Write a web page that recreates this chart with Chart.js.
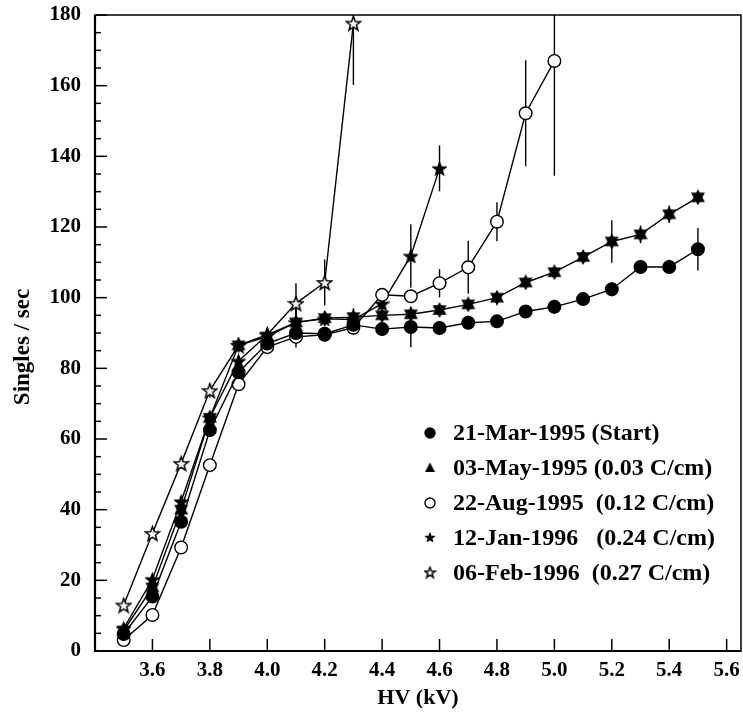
<!DOCTYPE html>
<html>
<head>
<meta charset="utf-8">
<script src="https://cdn.jsdelivr.net/npm/chart.js@4/dist/chart.umd.min.js"></script>
<style>
  body { margin: 0; background: #fff; }
  canvas { display: block; }
</style>
</head>
<body>
<canvas id="singles_cnv" width="743" height="716"></canvas>
<script>
// HV points (kV) and singles rates
const hv_start = [3.5, 3.6, 3.7, 3.8, 3.9, 4.0, 4.1, 4.2, 4.3, 4.4, 4.5, 4.6, 4.7, 4.8, 4.9, 5.0, 5.1, 5.2, 5.3, 5.4, 5.5];
const rate_start = [4.8, 15.4, 36.6, 62.5, 78.9, 87.0, 90.0, 89.8, 92.3, 91.1, 91.7, 91.4, 92.9, 93.3, 96.1, 97.4, 99.6, 102.4, 108.7, 108.7, 113.7];
const err_start = [1.0, 1.2, 1.5, 1.5, 1.5, 1.5, 2.0, 2.0, 2.5, 1.5, 5.7, 2.0, 2.0, 1.5, 1.5, 2.0, 1.5, 2.0, 2.0, 2.0, 6.0];

const hv_may = [3.5, 3.6, 3.7, 3.8, 3.9, 4.0, 4.1, 4.2, 4.3, 4.4, 4.5, 4.6, 4.7, 4.8, 4.9, 5.0, 5.1, 5.2, 5.3, 5.4, 5.5];
const rate_may = [5.8, 18.0, 40.0, 66.0, 86.5, 89.0, 93.0, 94.2, 94.5, 95.0, 95.3, 96.5, 98.1, 100.0, 104.3, 107.2, 111.5, 115.9, 117.9, 123.6, 128.4];
const err_may = [1.0, 1.2, 1.5, 1.5, 1.5, 1.5, 3.5, 2.0, 2.5, 1.5, 1.5, 1.5, 1.5, 1.5, 1.0, 1.5, 1.5, 6.0, 2.5, 2.5, 1.0];

const hv_aug = [3.5, 3.6, 3.7, 3.8, 3.9, 4.0, 4.1, 4.2, 4.3, 4.4, 4.5, 4.6, 4.7, 4.8, 4.9, 5.0];
const rate_aug = [3.1, 10.2, 29.3, 52.6, 75.5, 86.0, 88.9, 89.5, 91.5, 100.8, 100.4, 104.1, 108.6, 121.5, 152.2, 167.0];
const err_aug = [1.0, 1.0, 1.5, 1.5, 1.5, 2.0, 3.0, 2.0, 2.0, 1.0, 1.0, 4.0, 7.5, 5.5, 15.0, 32.5];

const hv_jan = [3.5, 3.6, 3.7, 3.8, 3.9, 4.0, 4.1, 4.2, 4.3, 4.4, 4.5, 4.6];
const rate_jan = [6.4, 20.3, 42.3, 66.0, 82.1, 89.5, 93.0, 94.0, 93.8, 98.3, 111.8, 136.6];
const err_jan = [1.0, 1.2, 1.5, 1.5, 1.5, 1.5, 4.0, 2.0, 2.5, 2.0, 9.0, 6.5];

const hv_feb = [3.5, 3.6, 3.7, 3.8, 3.9, 4.0, 4.1, 4.2, 4.3];
const rate_feb = [13.0, 33.3, 53.1, 73.7, 86.5, 89.5, 98.4, 104.3, 177.7];
const err_feb = [1.0, 1.0, 1.5, 2.0, 1.5, 2.0, 5.7, 6.5, 17.5];

const legend_labels = [
    "21-Mar-1995 (Start)",
    "03-May-1995 (0.03 C/cm)",
    "22-Aug-1995  (0.12 C/cm)",
    "12-Jan-1996   (0.24 C/cm)",
    "06-Feb-1996  (0.27 C/cm)"
];

const x_ticks = [3.6, 3.8, 4.0, 4.2, 4.4, 4.6, 4.8, 5.0, 5.2, 5.4, 5.6];
const y_ticks = [0, 20, 40, 60, 80, 100, 120, 140, 160, 180];

const serif = "'Liberation Serif', 'DejaVu Serif', serif";

/**
 * Little canvases used as point styles (stars and the double triangle).
 */
function star_canvas(size, filled) {
    const cnv = document.createElement("canvas");
    cnv.width = size;
    cnv.height = size;
    const ctx = cnv.getContext("2d");
    const c = size / 2, ro = size / 2 - 1, ri = ro * 0.42;
    ctx.beginPath();
    for (let i = 0; i < 10; i++) {
        const r = i % 2 === 0 ? ro : ri;
        const a = -Math.PI / 2 + i * Math.PI / 5;
        const px = c + r * Math.cos(a), py = c + r * Math.sin(a) + 0.8;
        if (i === 0) ctx.moveTo(px, py); else ctx.lineTo(px, py);
    }
    ctx.closePath();
    ctx.fillStyle = filled ? "#000" : "#fff";
    ctx.fill();
    ctx.lineWidth = 1.5;
    ctx.strokeStyle = "#000";
    ctx.stroke();
    return cnv;
}

function hourglass_canvas(size) {
    const cnv = document.createElement("canvas");
    cnv.width = size;
    cnv.height = size;
    const ctx = cnv.getContext("2d");
    ctx.fillStyle = "#000";
    ctx.beginPath();
    ctx.moveTo(size / 2, 0); ctx.lineTo(1, size * 0.8); ctx.lineTo(size - 1, size * 0.8); ctx.closePath();
    ctx.fill();
    ctx.beginPath();
    ctx.moveTo(1, size * 0.2); ctx.lineTo(size - 1, size * 0.2); ctx.lineTo(size / 2, size); ctx.closePath();
    ctx.fill();
    return cnv;
}

function triangle_canvas(size) {
    const cnv = document.createElement("canvas");
    cnv.width = size;
    cnv.height = size;
    const ctx = cnv.getContext("2d");
    ctx.fillStyle = "#000";
    ctx.beginPath();
    ctx.moveTo(size / 2, 0.5); ctx.lineTo(0.5, size - 1); ctx.lineTo(size - 0.5, size - 1); ctx.closePath();
    ctx.fill();
    return cnv;
}

const star_full_pt = star_canvas(15, true);
const star_open_pt = star_canvas(17, false);
const hourglass_pt = hourglass_canvas(16);

function to_points(xs, ys) {
    return xs.map((x, i) => ({x: x, y: ys[i]}));
}

function make_dataset(label, xs, ys, errs, style, fill) {
    return {
        label: label,
        data: to_points(xs, ys),
        errors: errs,
        showLine: true,
        borderColor: "#000",
        borderWidth: 1.4,
        tension: 0,
        pointStyle: style,
        pointRadius: 6.3,
        pointBackgroundColor: fill,
        pointBorderColor: "#000",
        pointBorderWidth: 1.4,
        clip: false
    };
}

const datasets = [
    make_dataset(legend_labels[0], hv_start, rate_start, err_start, "circle", "#000"),
    make_dataset(legend_labels[1], hv_may, rate_may, err_may, hourglass_pt, "#000"),
    make_dataset(legend_labels[2], hv_aug, rate_aug, err_aug, "circle", "#fff"),
    make_dataset(legend_labels[3], hv_jan, rate_jan, err_jan, star_full_pt, "#000"),
    make_dataset(legend_labels[4], hv_feb, rate_feb, err_feb, star_open_pt, "#fff")
];

// error bars go under the markers
const error_bar_plugin = {
    id: "error_bars",
    beforeDatasetsDraw(chart) {
        const ctx = chart.ctx, area = chart.chartArea;
        const xs = chart.scales.x, ys = chart.scales.y;
        ctx.save();
        ctx.beginPath();
        ctx.rect(area.left, area.top, area.right - area.left, area.bottom - area.top);
        ctx.clip();
        ctx.strokeStyle = "#000";
        ctx.lineWidth = 1.4;
        chart.data.datasets.forEach(ds => {
            ds.data.forEach((p, i) => {
                const e = ds.errors[i];
                const px = xs.getPixelForValue(p.x);
                ctx.beginPath();
                ctx.moveTo(px, ys.getPixelForValue(p.y - e));
                ctx.lineTo(px, ys.getPixelForValue(p.y + e));
                ctx.stroke();
            });
        });
        ctx.restore();
    }
};

// frame, inward ticks, y title and the legend block
const frame_plugin = {
    id: "frame",
    afterDraw(chart) {
        const ctx = chart.ctx, area = chart.chartArea;
        const xs = chart.scales.x, ys = chart.scales.y;
        ctx.save();
        ctx.strokeStyle = "#000";
        ctx.lineWidth = 1.5;
        ctx.strokeRect(area.left, area.top, area.right - area.left, area.bottom - area.top);
        ctx.lineWidth = 2.2;
        ctx.beginPath();
        ctx.moveTo(area.left, area.top);
        ctx.lineTo(area.left, area.bottom);
        ctx.lineTo(area.right, area.bottom);
        ctx.stroke();

        ctx.lineWidth = 1.5;
        for (let v = 0; v <= 180; v += 5) {
            const py = ys.getPixelForValue(v);
            const len = v % 20 === 0 ? 12 : 6;
            ctx.beginPath();
            ctx.moveTo(area.left, py);
            ctx.lineTo(area.left + len, py);
            ctx.stroke();
        }
        x_ticks.forEach(v => {
            const px = xs.getPixelForValue(v);
            ctx.beginPath();
            ctx.moveTo(px, area.bottom);
            ctx.lineTo(px, area.bottom - 12);
            ctx.stroke();
        });

        // y title
        ctx.save();
        ctx.translate(23, 347);
        ctx.rotate(-Math.PI / 2);
        ctx.font = "bold 23px " + serif;
        ctx.textAlign = "center";
        ctx.textBaseline = "middle";
        ctx.fillStyle = "#000";
        ctx.fillText("Singles / sec", 0, 0);
        ctx.restore();

        // legend
        const lx = 430, ly = 433, step = 35;
        ctx.font = "bold 24px " + serif;
        ctx.textBaseline = "middle";
        legend_labels.forEach((txt, i) => {
            const cy = ly + i * step;
            ctx.fillStyle = "#000";
            ctx.fillText(txt, 453, cy + 1);
            ctx.lineWidth = 1.4;
            if (i === 0 || i === 2) {
                ctx.beginPath();
                ctx.arc(lx, cy, 5, 0, Math.PI * 2);
                ctx.fillStyle = i === 0 ? "#000" : "#fff";
                ctx.fill();
                ctx.stroke();
            } else if (i === 1) {
                ctx.drawImage(triangle_canvas(11), lx - 5.5, cy - 6);
            } else if (i === 3) {
                ctx.drawImage(star_canvas(10, true), lx - 5, cy - 6);
            } else {
                ctx.drawImage(star_canvas(13, false), lx - 6.5, cy - 7.5);
            }
        });
        ctx.restore();
    }
};

const singles_chart = new Chart(document.getElementById("singles_cnv").getContext("2d"), {
    type: "scatter",
    data: {datasets: datasets},
    options: {
        responsive: false,
        animation: false,
        layout: {autoPadding: false, padding: {top: 15, right: 2, left: 0, bottom: 0}},
        plugins: {
            legend: {display: false},
            tooltip: {enabled: false}
        },
        scales: {
            x: {
                type: "linear",
                min: 3.4,
                max: 5.65,
                grid: {display: false, drawTicks: false},
                border: {display: false},
                afterBuildTicks: s => { s.ticks = x_ticks.map(v => ({value: v})); },
                afterFit: s => { s.height = 65; s.paddingLeft = 0; s.paddingRight = 0; },
                ticks: {
                    color: "#000",
                    padding: 7,
                    maxRotation: 0,
                    autoSkip: false,
                    font: {family: serif, size: 21, weight: "bold"},
                    callback: v => Number(v).toFixed(1)
                },
                title: {
                    display: true,
                    text: "HV (kV)",
                    color: "#000",
                    padding: {top: 0, bottom: 4},
                    font: {family: serif, size: 22, weight: "bold"}
                }
            },
            y: {
                min: 0,
                max: 180,
                grid: {display: false, drawTicks: false},
                border: {display: false},
                afterBuildTicks: s => { s.ticks = y_ticks.map(v => ({value: v})); },
                afterFit: s => { s.width = 95; s.paddingTop = 0; s.paddingBottom = 0; },
                ticks: {
                    color: "#000",
                    padding: 14,
                    autoSkip: false,
                    font: {family: serif, size: 21, weight: "bold"}
                }
            }
        }
    },
    plugins: [error_bar_plugin, frame_plugin]
});
</script>
</body>
</html>
